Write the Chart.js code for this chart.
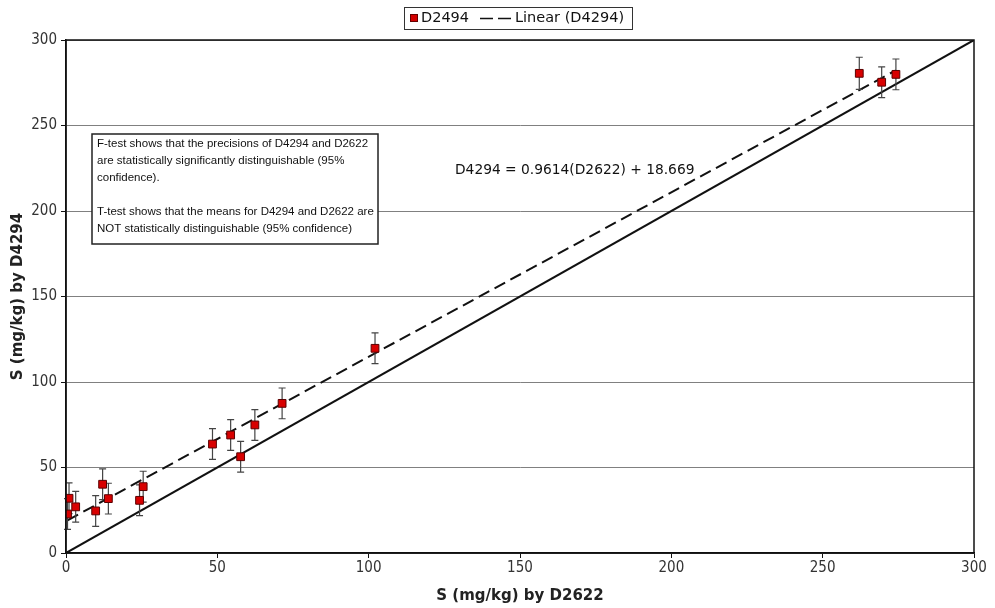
<!DOCTYPE html>
<html>
<head>
<meta charset="utf-8">
<script src="https://cdn.jsdelivr.net/npm/chart.js@4"></script>
<style>
  html, body { margin: 0; padding: 0; background: #fff; }
  #wrap { width: 995px; height: 608px; position: relative; }
</style>
</head>
<body>
<div id="wrap"><canvas id="chart"></canvas></div>
<script>
// S (mg/kg) by D2622 vs D4294
const xVals = [0.5, 1.0, 3.2, 9.8, 12.1, 14.0, 24.3, 25.5, 48.4, 54.4, 57.7, 62.4, 71.4, 102.1, 262.1, 269.5, 274.2];
const yVals = [22.8, 32.0, 27.0, 24.6, 40.2, 31.8, 30.8, 38.8, 63.7, 69.0, 56.3, 74.9, 87.5, 119.7, 280.5, 275.3, 279.9];
const yErr  = [9, 9, 9, 9, 9, 9, 9, 9, 9, 9, 9, 9, 9, 9, 9.4, 9, 9];

// trendline endpoints and 1:1 line
const trendX = [0.5, 274.2];
const trendY = [19.1, 282.3];
const identX = [0, 300];
const identY = [0, 300];

const xTicks = [0, 50, 100, 150, 200, 250, 300];
const yTicks = [0, 50, 100, 150, 200, 250, 300];

const noteLines = [
  'F-test shows that the precisions of D4294 and D2622',
  'are statistically significantly distinguishable (95%',
  'confidence).',
  '',
  'T-test shows that the means for D4294 and D2622 are',
  'NOT statistically distinguishable (95% confidence)'
];
const equation = 'D4294 = 0.9614(D2622) + 18.669';

const FONT = '"DejaVu Sans", Verdana, sans-serif';
const CFONT = '"DejaVu Sans Condensed", "DejaVu Sans", sans-serif';
const NFONT = '"Liberation Sans", Arial, sans-serif';

const toXY = (xs, ys) => xs.map((x, i) => ({ x: x, y: ys[i] }));

const errorBars = {
  id: 'errorBars',
  beforeDatasetDraw(chart, args) {
    if (args.index !== 0) return;
    const ctx = chart.ctx;
    const xs = chart.scales.x, ys = chart.scales.y;
    ctx.save();
    ctx.strokeStyle = '#444';
    ctx.lineWidth = 1.2;
    xVals.forEach((x, i) => {
      const px = xs.getPixelForValue(x);
      const top = ys.getPixelForValue(yVals[i] + yErr[i]);
      const bot = ys.getPixelForValue(yVals[i] - yErr[i]);
      ctx.beginPath();
      ctx.moveTo(px, top); ctx.lineTo(px, bot);
      ctx.moveTo(px - 3.5, top); ctx.lineTo(px + 3.5, top);
      ctx.moveTo(px - 3.5, bot); ctx.lineTo(px + 3.5, bot);
      ctx.stroke();
    });
    ctx.restore();
  }
};

const frameAndNotes = {
  id: 'frameAndNotes',
  beforeDatasetsDraw(chart) {
    const ctx = chart.ctx;
    // note box (covers grid lines)
    ctx.save();
    ctx.fillStyle = '#fff';
    ctx.fillRect(92, 134, 286, 110);
    ctx.strokeStyle = '#222';
    ctx.lineWidth = 1.5;
    ctx.strokeRect(92, 134, 286, 110);
    ctx.fillStyle = '#111';
    // shrink font until widest line fits the box
    let size = 13;
    do {
      ctx.font = size + 'px ' + NFONT;
      size -= 0.25;
    } while (Math.max(...noteLines.map(l => ctx.measureText(l).width)) > 279 && size > 8);
    ctx.textBaseline = 'middle';
    let y = 144;
    noteLines.forEach(l => {
      ctx.fillText(l, 97, y);
      y += 17;
    });
    ctx.font = '13.8px ' + FONT;
    ctx.fillText(equation, 455, 170);
    ctx.restore();
  },
  afterDraw(chart) {
    const ctx = chart.ctx;
    const a = chart.chartArea;
    ctx.save();
    ctx.strokeStyle = '#111';
    ctx.lineWidth = 1.5;
    ctx.strokeRect(a.left, a.top, a.right - a.left, a.bottom - a.top);

    // legend
    ctx.strokeStyle = '#333';
    ctx.lineWidth = 1;
    ctx.fillStyle = '#fff';
    ctx.fillRect(404, 7, 228, 22);
    ctx.strokeRect(404.5, 7.5, 228, 22);
    ctx.fillStyle = '#d40000';
    ctx.fillRect(410, 14, 8, 8);
    ctx.strokeStyle = '#600';
    ctx.strokeRect(410.5, 14.5, 7, 7);
    ctx.fillStyle = '#111';
    ctx.font = '14.5px ' + FONT;
    ctx.textBaseline = 'middle';
    ctx.fillText('D2494', 421, 18.5);
    ctx.strokeStyle = '#111';
    ctx.lineWidth = 1.5;
    ctx.setLineDash([13, 5]);
    ctx.beginPath();
    ctx.moveTo(480, 18.5); ctx.lineTo(511, 18.5);
    ctx.stroke();
    ctx.setLineDash([]);
    ctx.fillText('Linear (D4294)', 515, 18.5);
    ctx.restore();
  }
};

new Chart(document.getElementById('chart'), {
  type: 'scatter',
  data: {
    datasets: [{
      label: 'D2494',
      data: toXY(xVals, yVals),
      backgroundColor: '#d80000',
      borderColor: '#5a0000',
      borderWidth: 1,
      pointStyle: 'rect',
      pointRadius: 5.5,
      order: 0
    }, {
      label: 'Linear (D4294)',
      type: 'line',
      data: toXY(trendX, trendY),
      borderColor: '#111',
      borderWidth: 2,
      borderDash: [12, 6],
      pointRadius: 0,
      fill: false,
      order: 1
    }, {
      label: '1:1',
      type: 'line',
      data: toXY(identX, identY),
      borderColor: '#111',
      borderWidth: 2,
      pointRadius: 0,
      fill: false,
      order: 2
    }]
  },
  options: {
    responsive: true,
    maintainAspectRatio: false,
    animation: false,
    layout: { padding: { top: 40, right: 21, left: 0, bottom: 0 } },
    plugins: {
      legend: { display: false },
      tooltip: { enabled: false }
    },
    scales: {
      x: {
        type: 'linear',
        min: 0, max: 300,
        afterFit(s) { s.height = 55; },
        afterBuildTicks(s) { s.ticks = xTicks.map(v => ({ value: v })); },
        grid: { drawOnChartArea: false, drawTicks: true, tickLength: 5, tickColor: '#111' },
        border: { display: true, color: '#111', width: 1.5 },
        ticks: { color: '#333', font: { family: CFONT, size: 15 }, padding: 1, maxRotation: 0 },
        title: {
          display: true, text: 'S (mg/kg) by D2622', color: '#222',
          font: { family: FONT, size: 15, weight: 'bold' }, padding: { top: 0, bottom: 3 }
        }
      },
      y: {
        type: 'linear',
        min: 0, max: 300,
        afterFit(s) { s.width = 66; },
        afterBuildTicks(s) { s.ticks = yTicks.map(v => ({ value: v })); },
        grid: { color: '#808080', lineWidth: 1, drawTicks: true, tickLength: 5, tickColor: '#111' },
        border: { display: true, color: '#111', width: 1.5 },
        ticks: { color: '#333', font: { family: CFONT, size: 15 }, padding: 4 },
        title: {
          display: true, text: 'S (mg/kg) by D4294', color: '#222',
          font: { family: FONT, size: 15, weight: 'bold' }, padding: { top: 9, bottom: 0 }
        }
      }
    }
  },
  plugins: [errorBars, frameAndNotes]
});
</script>
</body>
</html>
